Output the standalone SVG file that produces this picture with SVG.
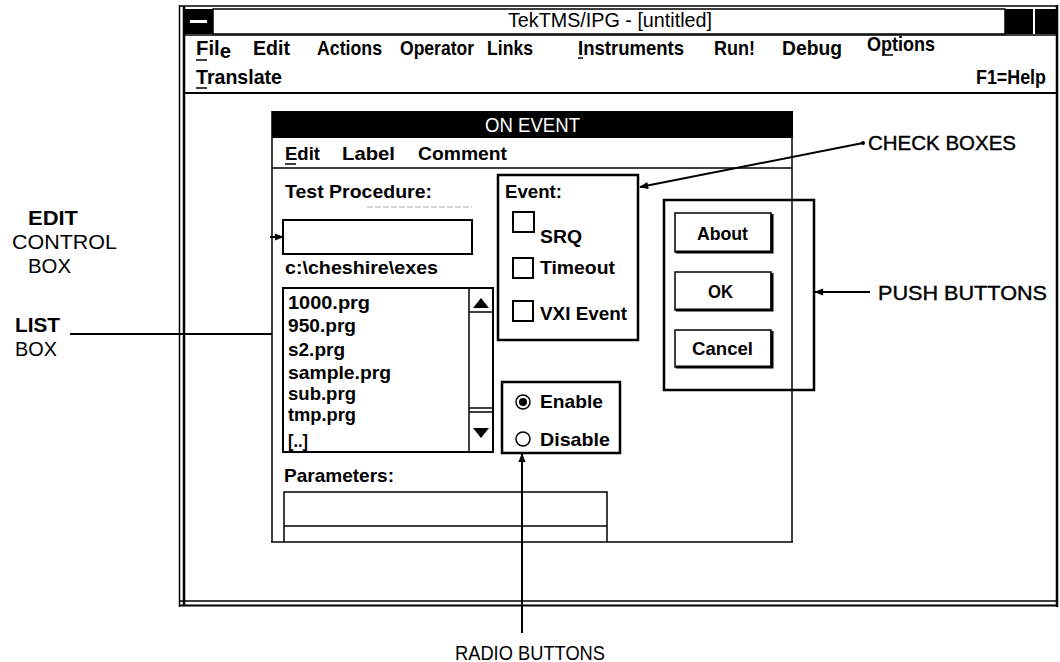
<svg xmlns="http://www.w3.org/2000/svg" width="1060" height="662" viewBox="0 0 1060 662">
<defs>
<style>
.t{font-family:"Liberation Sans",Arial,sans-serif;fill:#000}
.b{font-weight:bold}
.m{font-size:21px;font-weight:bold}
.u{font-size:19px;font-weight:bold}
.lb{font-size:20px}
.ln{fill:none;stroke:#000;stroke-width:1.5}
.bx{fill:none;stroke:#000;stroke-width:2.5}
.cb{fill:#fff;stroke:#000;stroke-width:2}
.cn{fill:none;stroke:#000;stroke-width:2}
</style>
<marker id="ah" viewBox="0 0 10 10" refX="9" refY="5" markerWidth="10" markerHeight="9" markerUnits="userSpaceOnUse" orient="auto"><path d="M0,1 L10,5 L0,9 z" fill="#000"/></marker>
</defs>
<rect width="1060" height="662" fill="#fff"/>

<g id="window">
  <line class="ln" x1="179.5" y1="5" x2="179.5" y2="607"/>
  <line x1="184" y1="6" x2="184" y2="606" stroke="#000" stroke-width="2.5"/>
  <line x1="1057" y1="5" x2="1057" y2="607" stroke="#000" stroke-width="2.5"/>
  <line class="ln" x1="179" y1="6" x2="1058" y2="6"/>
  <rect x="213" y="9" width="792" height="25" class="ln"/>
  <rect x="185" y="9" width="28" height="25" fill="#000"/>
  <rect x="190" y="20" width="17" height="3" fill="#fff"/>
  <rect x="1005" y="9" width="28" height="25" fill="#000"/>
  <rect x="1035" y="9" width="22" height="25" fill="#000"/>
  <text class="t lb" x="508" y="27" textLength="204" lengthAdjust="spacingAndGlyphs">TekTMS/IPG - [untitled]</text>
  <line class="ln" x1="184" y1="35" x2="1057" y2="35"/>
  <line x1="184" y1="93" x2="1057" y2="93" stroke="#000" stroke-width="2"/>
  <line class="ln" x1="179" y1="601" x2="1058" y2="601"/>
  <line x1="179" y1="605.5" x2="1058" y2="605.5" stroke="#000" stroke-width="2"/>
</g>

<g id="menubar">
  <text class="t m" x="196" y="55" textLength="35" lengthAdjust="spacingAndGlyphs">Fil<tspan dy="3">e</tspan></text>
  <line class="ln" x1="196" y1="60" x2="207" y2="60"/>
  <text class="t m" x="253" y="55" textLength="37" lengthAdjust="spacingAndGlyphs">Edit</text>
  <text class="t m" x="317" y="55" textLength="65" lengthAdjust="spacingAndGlyphs">Actions</text>
  <text class="t m" x="400" y="55" textLength="74" lengthAdjust="spacingAndGlyphs">Operator</text>
  <text class="t m" x="487" y="55" textLength="46" lengthAdjust="spacingAndGlyphs">Links</text>
  <text class="t m" x="578" y="55" textLength="106" lengthAdjust="spacingAndGlyphs">Instruments</text>
  <line class="ln" x1="578" y1="58" x2="583" y2="58"/>
  <text class="t m" x="714" y="55" textLength="41" lengthAdjust="spacingAndGlyphs">Run!</text>
  <text class="t m" x="782" y="55" textLength="60" lengthAdjust="spacingAndGlyphs">Debug</text>
  <text class="t m" x="867" y="51" textLength="68" lengthAdjust="spacingAndGlyphs">Options</text>
  <line class="ln" x1="882" y1="55" x2="893" y2="55"/>
  <text class="t m" x="196" y="84" textLength="86" lengthAdjust="spacingAndGlyphs">Translate</text>
  <line class="ln" x1="196" y1="88" x2="207" y2="88"/>
  <text class="t m" x="976" y="84" textLength="70" lengthAdjust="spacingAndGlyphs">F1=Help</text>
</g>

<g id="dialog">
  <rect x="272" y="111" width="521" height="27" fill="#000"/>
  <text class="t lb" x="485" y="132" style="fill:#fff" textLength="95" lengthAdjust="spacingAndGlyphs">ON EVENT</text>
  <line class="ln" x1="272" y1="111" x2="272" y2="542"/>
  <line class="ln" x1="792" y1="138" x2="792" y2="542"/>
  <line class="ln" x1="271" y1="542" x2="793" y2="542"/>
  <line class="ln" x1="272" y1="168" x2="792" y2="168"/>
  <text class="t u" x="285" y="160" textLength="35" lengthAdjust="spacingAndGlyphs">Edit</text>
  <line class="ln" x1="285" y1="164" x2="296" y2="164"/>
  <text class="t u" x="342" y="160" textLength="53" lengthAdjust="spacingAndGlyphs">Label</text>
  <text class="t u" x="418" y="160" textLength="89" lengthAdjust="spacingAndGlyphs">Comment</text>
</g>

<g id="test-procedure">
  <text class="t u" x="285" y="198" textLength="147" lengthAdjust="spacingAndGlyphs">Test Procedure:</text>
  <line x1="367" y1="207" x2="472" y2="207" stroke="#aaa" stroke-width="1" stroke-dasharray="6 2"/>
  <text class="t u" x="285" y="274" textLength="153" lengthAdjust="spacingAndGlyphs">c:\cheshire\exes</text>
</g>

<g id="edit-box">
  <rect x="283" y="220" width="189" height="34" class="cb"/>
</g>

<g id="list-box">
  <rect x="283" y="288" width="210" height="164" class="cb"/>
  <line class="ln" x1="469" y1="288" x2="469" y2="452"/>
  <line class="ln" x1="469" y1="312" x2="493" y2="312"/>
  <line class="ln" x1="469" y1="408" x2="493" y2="408"/>
  <line class="ln" x1="469" y1="412" x2="493" y2="412"/>
  <path d="M481,298 L473,308 L489,308 Z" fill="#000"/>
  <path d="M473,428 L489,428 L481,438 Z" fill="#000"/>
  <text class="t u" x="288" y="309" textLength="82" lengthAdjust="spacingAndGlyphs">1000.prg</text>
  <text class="t u" x="288" y="332" textLength="68" lengthAdjust="spacingAndGlyphs">950.prg</text>
  <text class="t u" x="288" y="356" textLength="57" lengthAdjust="spacingAndGlyphs">s2.prg</text>
  <text class="t u" x="288" y="379" textLength="103" lengthAdjust="spacingAndGlyphs">sample.prg</text>
  <text class="t u" x="288" y="400" textLength="68" lengthAdjust="spacingAndGlyphs">sub.prg</text>
  <text class="t u" x="288" y="421" textLength="68" lengthAdjust="spacingAndGlyphs">tmp.prg</text>
  <text class="t u" x="288" y="447" textLength="20" lengthAdjust="spacingAndGlyphs">[..]</text>
</g>

<g id="event-group">
  <rect x="498" y="175" width="140" height="165" class="bx"/>
  <text class="t u" x="505" y="198" textLength="57" lengthAdjust="spacingAndGlyphs">Event:</text>
  <rect x="513" y="212" width="21" height="20" class="cb"/>
  <text class="t u" x="540" y="243" textLength="42" lengthAdjust="spacingAndGlyphs">SRQ</text>
  <rect x="513" y="258" width="20" height="20" class="cb"/>
  <text class="t u" x="540" y="274" textLength="75" lengthAdjust="spacingAndGlyphs">Timeout</text>
  <rect x="513" y="301" width="20" height="20" class="cb"/>
  <text class="t u" x="540" y="320" textLength="87" lengthAdjust="spacingAndGlyphs">VXI Event</text>
</g>

<g id="push-group">
  <rect x="664" y="200" width="150" height="190" class="bx"/>
  <g id="btn-about">
    <rect x="675" y="213" width="96" height="39" class="ln"/>
    <path d="M676,252 H772 V214" fill="none" stroke="#000" stroke-width="3"/>
    <text class="t u" x="697" y="240" textLength="51" lengthAdjust="spacingAndGlyphs">About</text>
  </g>
  <g id="btn-ok">
    <rect x="675" y="272" width="96" height="38" class="ln"/>
    <path d="M676,310 H772 V273" fill="none" stroke="#000" stroke-width="3"/>
    <text class="t u" x="708" y="298" textLength="25" lengthAdjust="spacingAndGlyphs">OK</text>
  </g>
  <g id="btn-cancel">
    <rect x="675" y="330" width="96" height="37" class="ln"/>
    <path d="M676,367 H772 V331" fill="none" stroke="#000" stroke-width="3"/>
    <text class="t u" x="692" y="355" textLength="61" lengthAdjust="spacingAndGlyphs">Cancel</text>
  </g>
</g>

<g id="radio-group">
  <rect x="502" y="382" width="118" height="71" class="bx"/>
  <circle cx="523" cy="402" r="7" fill="#fff" stroke="#000" stroke-width="1.5"/>
  <circle cx="523" cy="402" r="4" fill="#000"/>
  <text class="t u" x="540" y="408" textLength="63" lengthAdjust="spacingAndGlyphs">Enable</text>
  <circle cx="523" cy="439" r="7" fill="#fff" stroke="#000" stroke-width="1.5"/>
  <text class="t u" x="540" y="446" textLength="70" lengthAdjust="spacingAndGlyphs">Disable</text>
</g>

<g id="parameters">
  <text class="t u" x="284" y="482" textLength="110" lengthAdjust="spacingAndGlyphs">Parameters:</text>
  <path d="M284,542 V492 H607 V542" class="ln"/>
  <line class="ln" x1="284" y1="526" x2="607" y2="526"/>
</g>

<g id="connectors">
  <line class="cn" x1="70" y1="334" x2="272" y2="334"/>
  <line class="cn" x1="270" y1="237" x2="283" y2="237" marker-end="url(#ah)"/>
  <circle cx="863" cy="143" r="2" fill="#000"/>
  <line class="cn" x1="863" y1="143" x2="640" y2="187" marker-end="url(#ah)"/>
  <line class="cn" x1="870" y1="292" x2="815" y2="292" marker-end="url(#ah)"/>
  <line class="cn" x1="522" y1="633" x2="522" y2="454" marker-end="url(#ah)"/>
</g>

<g id="label-edit-control-box">
  <text class="t lb b" x="28" y="225" textLength="50" lengthAdjust="spacingAndGlyphs">EDIT</text>
  <text class="t lb" x="12" y="249" textLength="105" lengthAdjust="spacingAndGlyphs">CONTROL</text>
  <text class="t lb" x="28" y="273" textLength="43" lengthAdjust="spacingAndGlyphs">BOX</text>
</g>
<g id="label-list-box">
  <text class="t lb b" x="15" y="332" textLength="45" lengthAdjust="spacingAndGlyphs">LIST</text>
  <text class="t lb" x="15" y="356" textLength="42" lengthAdjust="spacingAndGlyphs">BOX</text>
</g>
<g id="label-check-boxes">
  <text class="t lb" x="868" y="150" textLength="148" lengthAdjust="spacingAndGlyphs" stroke="#000" stroke-width="0.4">CHECK BOXES</text>
</g>
<g id="label-push-buttons">
  <text class="t lb" x="878" y="300" textLength="169" lengthAdjust="spacingAndGlyphs" stroke="#000" stroke-width="0.4">PUSH BUTTONS</text>
</g>
<g id="label-radio-buttons">
  <text class="t" x="455" y="660" font-size="21" textLength="150" lengthAdjust="spacingAndGlyphs">RADIO BUTTONS</text>
</g>
</svg>
